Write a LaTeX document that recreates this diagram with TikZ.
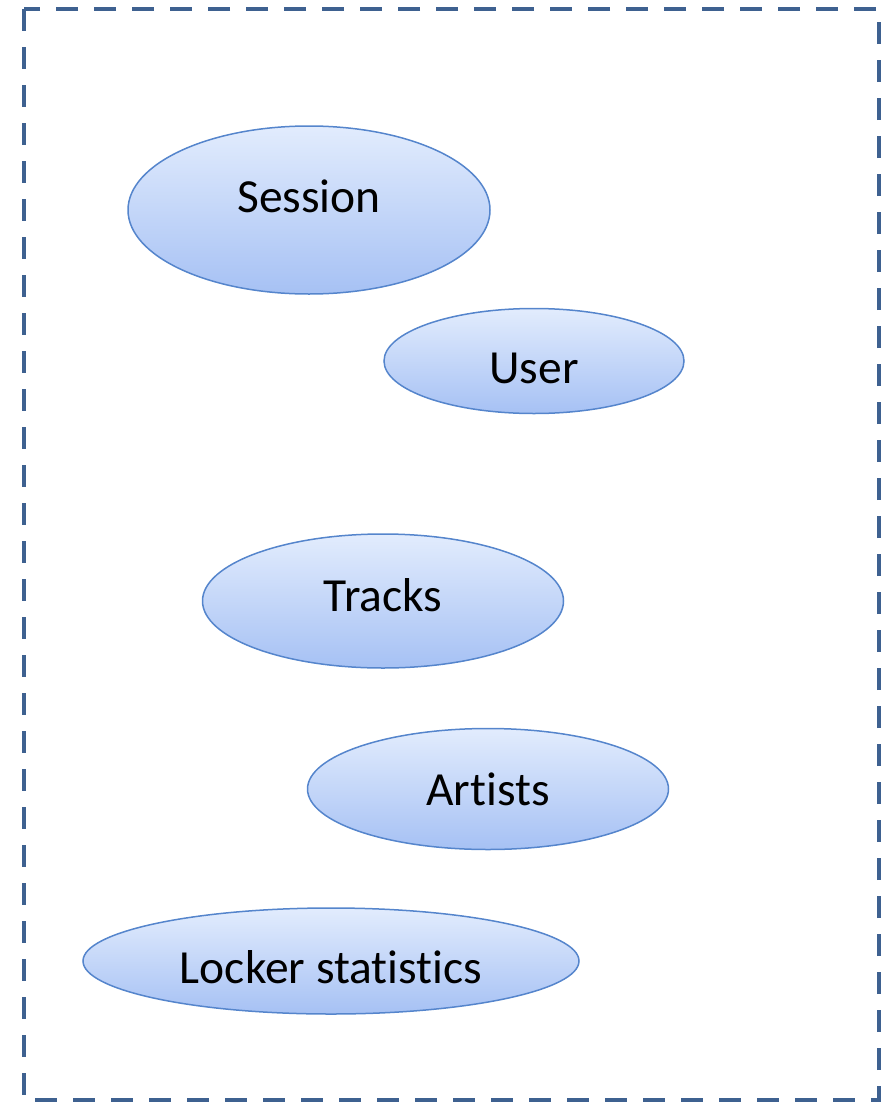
\documentclass[tikz,border=0pt]{standalone}
\usepackage{fontspec}
\setmainfont[Ligatures=NoCommon]{Carlito}
\usetikzlibrary{shapes.geometric}
\definecolor{framecol}{HTML}{3E6190}
\definecolor{ovaledge}{HTML}{5585CC}
\definecolor{ovaltop}{HTML}{E2ECFD}
\definecolor{ovalbot}{HTML}{A6C1F4}
% move a label up or down without changing its box
\newcommand{\liftby}[2]{\raisebox{#1}[\height][\depth]{#2}}
\tikzset{
  oval/.style={ellipse, draw=ovaledge, line width=1.5pt, top color=ovaltop,
    bottom color=ovalbot, inner sep=0pt, font=\fontsize{47.5}{52}\selectfont},
  frame/.style={draw=framecol, line width=4pt, dash pattern=on 22pt off 16pt}
}
\begin{document}
\begin{tikzpicture}[x=1pt,y=-1pt]
\useasboundingbox (0,0) rectangle (891,1103);
\draw[frame] (24,9) rectangle (879,1100);
% entities
\node[oval, minimum width=362pt, minimum height=168pt] (session) at (309,210) {\liftby{14pt}{Session}};
\node[oval, minimum width=300pt, minimum height=105pt] (user) at (534,361) {\liftby{-7pt}{User}};
\node[oval, minimum width=361pt, minimum height=134pt] (tracks) at (383,601) {\liftby{5.5pt}{Tracks}};
\node[oval, minimum width=361pt, minimum height=121pt] (artists) at (488,789) {Artists};
\node[oval, minimum width=496pt, minimum height=106pt] (locker) at (331,961) {\liftby{-6.5pt}{Locker statistics}};
\end{tikzpicture}
\end{document}
